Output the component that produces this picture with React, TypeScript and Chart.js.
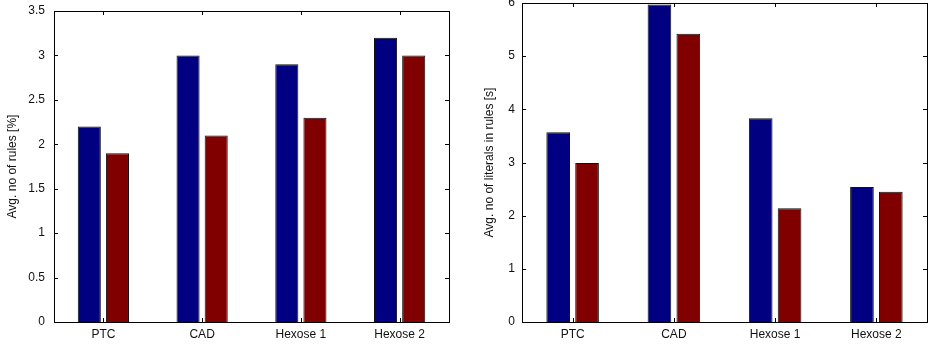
import React, { useEffect, useRef } from "react";
import { Chart, registerables } from "chart.js";

Chart.register(...registerables);

const categories = ["PTC", "CAD", "Hexose 1", "Hexose 2"];
const rulesBlue = [2.2, 3.0, 2.9, 3.2];
const rulesRed = [1.9, 2.1, 2.3, 3.0];
const literalsBlue = [3.57, 5.97, 3.83, 2.54];
const literalsRed = [2.99, 5.42, 2.14, 2.45];

const BLUE = "#000080";
const RED = "#800000";
const FONT = "'Liberation Sans', Arial, sans-serif";

const frameTicks = {
  id: "frameTicks",
  afterDatasetsDraw(chart: any) {
    const { ctx, chartArea } = chart;
    const { left, right, top, bottom } = chartArea;
    const xs = chart.scales.x;
    const ys = chart.scales.y;
    ctx.save();
    ctx.strokeStyle = "#000";
    ctx.lineWidth = 1;
    const L = 4;
    ys.ticks.forEach((_t: any, i: number) => {
      const y = Math.round(ys.getPixelForTick(i)) + 0.5;
      ctx.beginPath();
      ctx.moveTo(left, y);
      ctx.lineTo(left + L, y);
      ctx.moveTo(right, y);
      ctx.lineTo(right - L, y);
      ctx.stroke();
    });
    xs.ticks.forEach((_t: any, i: number) => {
      const x = Math.round(xs.getPixelForTick(i)) + 0.5;
      ctx.beginPath();
      ctx.moveTo(x, bottom);
      ctx.lineTo(x, bottom - L);
      ctx.moveTo(x, top);
      ctx.lineTo(x, top + L);
      ctx.stroke();
    });
    ctx.strokeRect(
      Math.round(left) + 0.5,
      Math.round(top) + 0.5,
      Math.round(right) - Math.round(left),
      Math.round(bottom) - Math.round(top)
    );
    ctx.restore();
  },
};

type Props = {
  blue: number[];
  red: number[];
  max: number;
  step: number;
  title: string;
  yWidth: number;
  padTop: number;
  padRight: number;
  titlePad: number;
  tickPad: number;
};

function BarChart(p: Props) {
  const ref = useRef<HTMLCanvasElement>(null);
  useEffect(() => {
    if (!ref.current) return;
    const chart = new Chart(ref.current, {
      type: "bar",
      data: {
        labels: categories,
        datasets: [
          {
            data: p.blue,
            backgroundColor: BLUE,
            borderColor: "#111",
            borderWidth: 1,
            categoryPercentage: 0.57,
            barPercentage: 0.82,
          },
          {
            data: p.red,
            backgroundColor: RED,
            borderColor: "#111",
            borderWidth: 1,
            categoryPercentage: 0.57,
            barPercentage: 0.82,
          },
        ],
      },
      options: {
        animation: false,
        responsive: false,
        devicePixelRatio: 1,
        layout: { padding: { top: p.padTop, right: p.padRight, left: 0, bottom: 0 } },
        plugins: { legend: { display: false }, tooltip: { enabled: false } },
        scales: {
          x: {
            grid: { display: false, drawTicks: false },
            border: { display: false },
            ticks: { color: "#111", font: { family: FONT, size: 12 }, padding: 5 },
            afterFit: (s: any) => {
              s.height = 24;
              s.paddingLeft = 0;
              s.paddingRight = 0;
            },
          },
          y: {
            min: 0,
            max: p.max,
            grid: { display: false, drawTicks: false },
            border: { display: false },
            ticks: {
              stepSize: p.step,
              color: "#111",
              font: { family: FONT, size: 12 },
              padding: p.tickPad,
              callback: (v: any) => String(+Number(v).toFixed(2)),
            },
            title: {
              display: true,
              text: p.title,
              color: "#111",
              font: { family: FONT, size: 12 },
              padding: { top: p.titlePad, bottom: 0 },
            },
            afterFit: (s: any) => {
              s.width = p.yWidth;
              s.paddingTop = 0;
              s.paddingBottom = 0;
            },
          },
        },
      },
      plugins: [frameTicks],
    });
    return () => chart.destroy();
  }, []);
  return <canvas ref={ref} width={465} height={346} style={{ display: "block", width: 465, height: 346 }} />;
}

export default function App() {
  return (
    <div style={{ position: "fixed", left: 0, top: 0, width: 930, height: 346, background: "#fff", display: "flex" }}>
      <BarChart blue={rulesBlue} red={rulesRed} max={3.5} step={0.5} title="Avg. no of rules [%]" yWidth={54} padTop={11} padRight={16} titlePad={5} tickPad={9} />
      <BarChart blue={literalsBlue} red={literalsRed} max={6} step={1} title="Avg. no of literals in rules [s]" yWidth={57} padTop={3} padRight={3} titlePad={17} tickPad={7} />
    </div>
  );
}
